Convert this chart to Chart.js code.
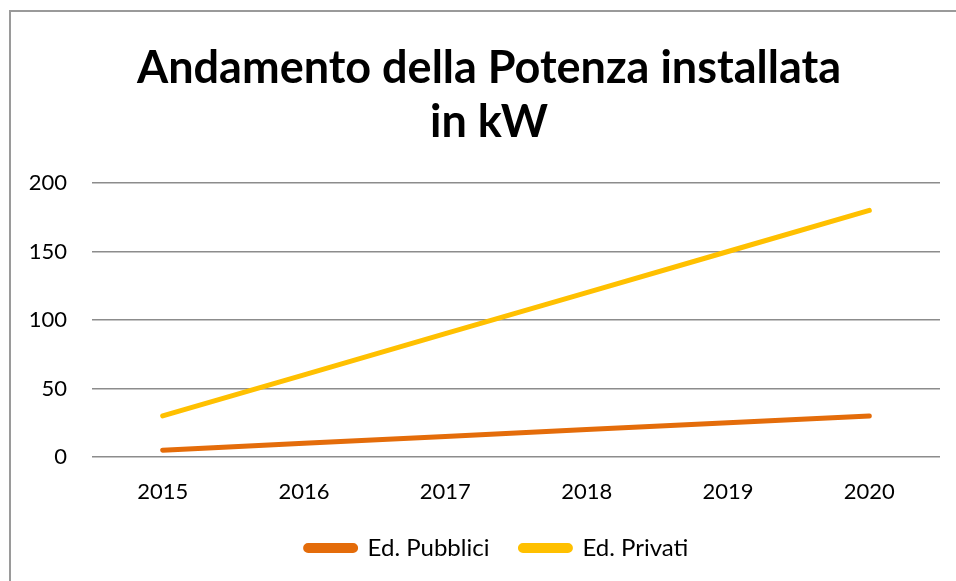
<!DOCTYPE html>
<html>
<head>
<meta charset="utf-8">
<script src="https://cdn.jsdelivr.net/npm/chart.js@4"></script>
<style>
html,body{margin:0;padding:0;background:#fff;}
#wrap{position:relative;width:956px;height:581px;}
#frame{position:absolute;left:9px;top:10px;right:0;bottom:0;border-left:2px solid #9a9a9a;border-top:2px solid #9a9a9a;pointer-events:none;}
canvas{position:absolute;left:0;top:0;}
</style>
</head>
<body>
<div id="wrap">
<canvas id="c" width="956" height="581"></canvas>
<div id="frame"></div>
</div>
<script>
const years = ["2015","2016","2017","2018","2019","2020"];
const pubblici = [5,10,15,20,25,30];
const privati = [30,60,90,120,150,180];
const titleLines = ["Andamento della Potenza installata","in kW"];
const seriesNames = ["Ed. Pubblici","Ed. Privati"];
const colors = ["#E46C0A","#FFC000"];

const boxShift = {
  id: 'boxShift',
  afterLayout(chart) {
    const lg = chart.legend;
    if (lg) { lg.left += 17; lg.right += 17; }
    const tb = chart.titleBlock;
    if (tb) { tb.left += 9; tb.right += 9; }
  }
};

new Chart(document.getElementById('c'), {
  type: 'line',
  data: {
    labels: years,
    datasets: [
      {label: seriesNames[0], data: pubblici, borderColor: colors[0], backgroundColor: colors[0], borderWidth: 5, pointRadius: 0, borderCapStyle: 'round', tension: 0},
      {label: seriesNames[1], data: privati, borderColor: colors[1], backgroundColor: colors[1], borderWidth: 5, pointRadius: 0, borderCapStyle: 'round', tension: 0}
    ]
  },
  plugins: [boxShift],
  options: {
    responsive: false,
    animation: false,
    layout: {padding: {left: 20, right: 16, top: 0, bottom: 11}},
    plugins: {
      title: {
        display: true,
        text: titleLines,
        color: '#000',
        font: {family: 'Lato', weight: 'bold', size: 45, lineHeight: 1.2},
        padding: {top: 41, bottom: 34}
      },
      legend: {
        position: 'bottom',
        labels: {
          color: '#000',
          font: {family: 'Lato', size: 24},
          boxWidth: 50,
          boxHeight: 5,
          useBorderRadius: true,
          borderRadius: 2.5,
          padding: 31
        }
      },
      tooltip: {enabled: false}
    },
    scales: {
      x: {
        offset: true,
        grid: {display: false, drawTicks: false},
        border: {display: false},
        ticks: {color: '#000', font: {family: 'Lato', size: 22}, padding: 22, maxRotation: 0},
        afterFit: (s) => { s.height = 48; }
      },
      y: {
        min: 0, max: 200,
        ticks: {stepSize: 50, color: '#000', font: {family: 'Lato', size: 22}, padding: 25},
        grid: {color: '#8c8c8c', lineWidth: 1.5, drawTicks: false},
        border: {display: false},
        afterFit: (s) => { s.width = 72; }
      }
    }
  }
});
</script>
</body>
</html>
